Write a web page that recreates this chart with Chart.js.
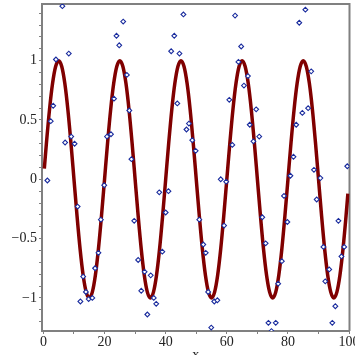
<!DOCTYPE html>
<html><head><meta charset="utf-8">
<script src="https://cdn.jsdelivr.net/npm/chart.js@4"></script>
<style>html,body{margin:0;padding:0;overflow:hidden;background:#fff}
#wrap{width:355px;height:364px;position:relative}</style>
</head><body><div id="wrap"><canvas id="c" width="355" height="364"></canvas></div>
<script>
const pointX = [1.3, 2.4, 3.2, 4.1, 6.2, 7.1, 8.3, 9.1, 10.2, 11.2, 12.1, 13.0, 13.9, 14.8, 16.0, 16.9, 18.0, 18.8, 19.9, 20.8,
  22.1, 23.1, 23.9, 24.8, 26.1, 27.3, 28.1, 28.8, 29.7, 31.0, 32.0, 33.1, 34.0, 35.1, 36.1, 36.9, 37.9, 38.9, 40.0, 40.9,
  41.8, 42.8, 43.8, 44.5, 45.8, 46.8, 47.6, 48.7, 49.8, 51.0, 52.3, 53.1, 53.9, 54.9, 55.9, 56.9, 58.0, 59.1, 59.8, 60.8,
  61.8, 62.7, 63.8, 64.7, 65.6, 66.9, 67.5, 68.7, 69.6, 70.6, 71.6, 72.7, 73.6, 74.6, 76.0, 76.8, 78.0, 78.7, 79.8, 80.8,
  81.8, 82.7, 83.7, 84.7, 85.7, 86.6, 87.6, 88.5, 89.4, 90.6, 91.6, 92.2, 93.5, 94.5, 95.5, 96.5, 97.5, 98.4, 99.4];
const pointY = [-0.01, 0.49, 0.62, 1.01, 1.46, 0.31, 1.06, 0.36, 0.30, -0.23, -1.03, -0.82, -0.95, -1.01, -1.00, -0.75, -0.62, -0.34, -0.05, 0.36,
  0.38, 0.68, 1.21, 1.13, 1.33, 0.88, 0.58, 0.17, -0.35, -0.68, -0.94, -0.78, -1.14, -0.81, -1.00, -1.05, -0.11, -0.61, -0.28, -0.10,
  1.08, 1.21, 0.64, 1.06, 1.39, 0.42, 0.47, 0.33, 0.24, -0.34, -0.55, -0.62, -0.95, -1.25, -1.03, -1.02, 0.00, -0.39, -0.02, 0.67,
  0.29, 1.38, 0.99, 1.12, 0.79, 0.87, 0.46, 0.32, 0.59, 0.36, -0.32, -0.54, -1.21, -1.28, -1.21, -0.88, -0.69, -0.14, -0.36, 0.03,
  0.19, 0.46, 1.32, 0.56, 1.43, 0.60, 0.91, 0.08, -0.17, 0.01, -0.57, -0.86, -0.76, -1.21, -1.07, -0.35, -0.65, -0.57, 0.11];
const curveX = [0.3, 1, 2, 3, 4, 5, 6, 7, 8, 9, 10, 11, 12, 13, 14, 15, 16, 17, 18, 19,
  20, 21, 22, 23, 24, 25, 26, 27, 28, 29, 30, 31, 32, 33, 34, 35, 36, 37, 38, 39,
  40, 41, 42, 43, 44, 45, 46, 47, 48, 49, 50, 51, 52, 53, 54, 55, 56, 57, 58, 59,
  60, 61, 62, 63, 64, 65, 66, 67, 68, 69, 70, 71, 72, 73, 74, 75, 76, 77, 78, 79,
  80, 81, 82, 83, 84, 85, 86, 87, 88, 89, 90, 91, 92, 93, 94, 95, 96, 97, 98, 99, 99.6];
const curveY = [0.09, 0.309, 0.588, 0.809, 0.951, 1, 0.951, 0.809, 0.588, 0.309, 0, -0.309, -0.588, -0.809, -0.951, -1, -0.951, -0.809, -0.588, -0.309,
  0, 0.309, 0.588, 0.809, 0.951, 1, 0.951, 0.809, 0.588, 0.309, 0, -0.309, -0.588, -0.809, -0.951, -1, -0.951, -0.809, -0.588, -0.309,
  0, 0.309, 0.588, 0.809, 0.951, 1, 0.951, 0.809, 0.588, 0.309, 0, -0.309, -0.588, -0.809, -0.951, -1, -0.951, -0.809, -0.588, -0.309,
  0, 0.309, 0.588, 0.809, 0.951, 1, 0.951, 0.809, 0.588, 0.309, 0, -0.309, -0.588, -0.809, -0.951, -1, -0.951, -0.809, -0.588, -0.309,
  0, 0.309, 0.588, 0.809, 0.951, 1, 0.951, 0.809, 0.588, 0.309, 0, -0.309, -0.588, -0.809, -0.951, -1, -0.951, -0.809, -0.588, -0.309, -0.12];
const xTickValues = [0, 20, 40, 60, 80, 100];
const xTickLabels = ['0', '20', '40', '60', '80', '100'];
const yTickValues = [-1, -0.5, 0, 0.5, 1];
const yTickLabels = ['\u22121', '\u22120.5', '0', '0.5', '1'];
const xAxisTitle = 'x';

function labelFor(values, labels, v) {
  for (let i = 0; i < values.length; i++) if (Math.abs(values[i] - v) < 1e-6) return labels[i];
  return '';
}
const pts = pointX.map((x, i) => ({x: x, y: pointY[i]}));
const crv = curveX.map((x, i) => ({x: x, y: curveY[i]}));
const font = {family: 'Liberation Serif', size: 14};
const axisColor = '#808080';
const frame = {id: 'frame', beforeDatasetsDraw(chart) {
  const {ctx, chartArea: a} = chart;
  ctx.save(); ctx.strokeStyle = axisColor; ctx.lineWidth = 2;
  ctx.beginPath(); ctx.moveTo(a.left, a.top); ctx.lineTo(a.right, a.top); ctx.lineTo(a.right, a.bottom); ctx.stroke();
  ctx.restore();
}};
new Chart(document.getElementById('c'), {
  type: 'scatter',
  data: {datasets: [
    {data: pts, pointStyle: 'rectRot', pointRadius: 2.4, borderWidth: 1.1, borderColor: '#1a2c9e', backgroundColor: '#ffffff', order: 0},
    {type: 'line', data: crv, showLine: true, pointRadius: 0, borderColor: '#800000', borderWidth: 3.5, cubicInterpolationMode: 'monotone', borderCapStyle: 'butt', fill: false, order: 1}
  ]},
  options: {
    responsive: false, animation: false, devicePixelRatio: 1,
    layout: {autoPadding: false, padding: {top: 4, right: 5.5, left: 0, bottom: 0}},
    plugins: {legend: {display: false}, tooltip: {enabled: false}},
    scales: {
      x: {type: 'linear', min: -0.46, max: 100.13,
        afterFit: s => { s.height = 33; s.paddingLeft = 0; s.paddingRight = 0; },
        ticks: {stepSize: 10, includeBounds: false, autoSkip: false, maxRotation: 0, padding: 0, color: '#222', font: font,
          callback: v => labelFor(xTickValues, xTickLabels, v)},
        grid: {display: true, drawOnChartArea: false, drawTicks: true, tickLength: 3, color: axisColor, lineWidth: 1},
        border: {display: true, color: axisColor, width: 2},
        title: {display: true, text: xAxisTitle, color: '#222', font: font, padding: {top: 0, bottom: 0}}
      },
      y: {type: 'linear', min: -1.279, max: 1.478,
        afterFit: s => { s.width = 42; s.paddingTop = 0; s.paddingBottom = 0; },
        ticks: {stepSize: 0.1, includeBounds: false, autoSkip: false, padding: 2, color: '#222', font: font,
          callback: v => labelFor(yTickValues, yTickLabels, v)},
        grid: {display: true, drawOnChartArea: false, drawTicks: true, tickLength: 3, color: axisColor, lineWidth: 1},
        border: {display: true, color: axisColor, width: 2}
      }
    }
  },
  plugins: [frame]
});
</script></body></html>
